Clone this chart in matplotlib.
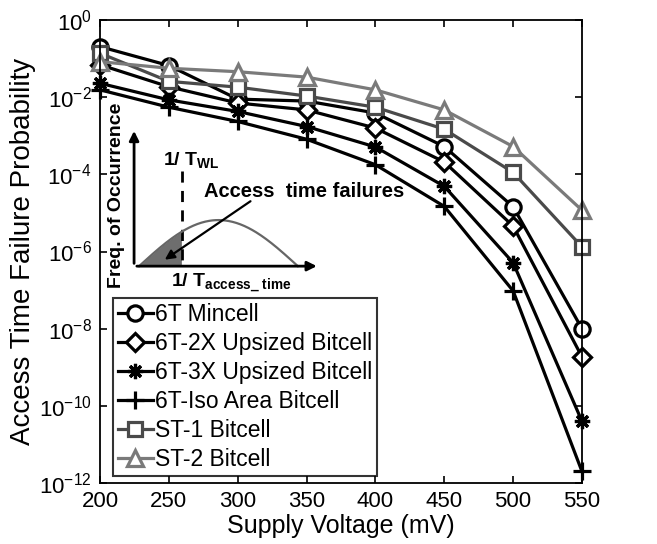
import numpy as np
import matplotlib
matplotlib.use("Agg")
import matplotlib.pyplot as plt

plt.rcParams['font.family'] = ['Liberation Sans', 'DejaVu Sans']
plt.rcParams['mathtext.fontset'] = 'custom'
plt.rcParams['mathtext.rm'] = 'Liberation Sans'
plt.rcParams['mathtext.bf'] = 'Liberation Sans:bold'
plt.rcParams['mathtext.it'] = 'Liberation Sans:italic'

voltage = [200, 250, 300, 350, 400, 450, 500, 550]
labels = ["6T Mincell", "6T-2X Upsized Bitcell", "6T-3X Upsized Bitcell",
          "6T-Iso Area Bitcell", "ST-1 Bitcell", "ST-2 Bitcell"]
log_mincell = [-0.69, -1.18, -2.05, -2.10, -2.41, -3.28, -4.84, -8.00]
log_2x = [-1.16, -1.73, -2.15, -2.33, -2.80, -3.68, -5.34, -8.73]
log_3x = [-1.64, -2.07, -2.37, -2.76, -3.29, -4.31, -6.29, -10.40]
log_iso = [-1.81, -2.26, -2.63, -3.09, -3.75, -4.83, -7.02, -11.70]
log_st1 = [-0.86, -1.59, -1.74, -1.97, -2.26, -2.83, -3.95, -5.88]
log_st2 = [-1.08, -1.25, -1.34, -1.48, -1.81, -2.33, -3.28, -4.93]

series = [log_mincell, log_2x, log_3x, log_iso, log_st1, log_st2]
markers = ['o', 'D', (8, 2, 0), '+', 's', '^']
msizes = [11, 9, 11, 13, 10, 11]
colors = ['black', 'black', 'black', 'black', '#4a4a4a', '#7a7a7a']

fig = plt.figure(figsize=(6.57, 5.44), dpi=100)
ax = fig.add_axes([0.1522, 0.1121, 0.7336, 0.8511])

for vals, lab, m, ms, c in zip(series, labels, markers, msizes, colors):
    ax.semilogy(voltage, 10.0 ** np.array(vals), color=c, lw=2.3, marker=m,
                ms=ms, mfc='white', mec=c, mew=2.3, label=lab, clip_on=False)

ax.set_xlim(200, 550)
ax.set_ylim(1e-12, 1)
ax.set_xticks(voltage)
ax.set_yticks([10.0 ** k for k in range(-12, 1, 2)])
ax.yaxis.set_minor_locator(matplotlib.ticker.NullLocator())
ax.tick_params(direction='in', top=True, right=True, labelsize=16, length=5, width=1.2, pad=6)
for s in ax.spines.values():
    s.set_linewidth(1.3)
ax.set_xlabel("Supply Voltage (mV)", fontsize=18, labelpad=1)
ax.set_ylabel("Access Time Failure Probability", fontsize=20, labelpad=2)

leg = ax.legend(loc='lower left', bbox_to_anchor=(0.027, 0.015), fontsize=16.5,
                frameon=True, fancybox=False, edgecolor='black', handlelength=1.55,
                handletextpad=0.1, borderpad=0.2, labelspacing=0.27, borderaxespad=0)
leg.get_frame().set_linewidth(1.5)

# Inset diagram (axes fraction coordinates)
T = ax.transAxes
x0, y0 = 0.0707, 0.4684
ax.annotate('', xy=(x0, 0.7665), xytext=(x0, y0), xycoords=T,
            arrowprops=dict(arrowstyle='-|>', color='black', lw=2, mutation_scale=14))
ax.annotate('', xy=(0.4556, y0), xytext=(x0, y0), xycoords=T,
            arrowprops=dict(arrowstyle='-|>', color='black', lw=2, mutation_scale=14))
ax.plot([0.170, 0.170], [0.673, y0], transform=T, color='black', lw=2, ls=(0, (4, 3)))
cx = np.linspace(0.0811, 0.4105, 200)
cy = y0 + 0.0995 * np.sin(np.pi * (cx - 0.0811) / (0.4105 - 0.0811))
ax.plot(cx, cy, transform=T, color='#666666', lw=1.6)
mask = cx <= 0.170
ax.fill_between(cx[mask], y0, cy[mask], transform=T, color='#6e6e6e', lw=0)
ax.annotate('', xy=(0.1297, 0.479), xytext=(0.317, 0.612), xycoords=T,
            arrowprops=dict(arrowstyle='-|>', color='black', lw=1.6, mutation_scale=14))
ax.text(0.1297, 0.698, r'$\mathbf{1/\ T_{WL}}$', transform=T, fontsize=14,
        va='center', ha='left')
ax.text(0.2164, 0.630, 'Access  time failures', transform=T, fontsize=14.5,
        fontweight='bold', va='center', ha='left')
ax.text(0.034, 0.621, 'Freq. of Occurrence', transform=T, fontsize=14,
        fontweight='bold', va='center', ha='center', rotation=90)
ax.text(0.147, 0.432, r'$\mathbf{1/\ T_{access\_\ time}}$', transform=T, fontsize=14,
        va='center', ha='left')

fig.savefig("out.png", dpi=100)
